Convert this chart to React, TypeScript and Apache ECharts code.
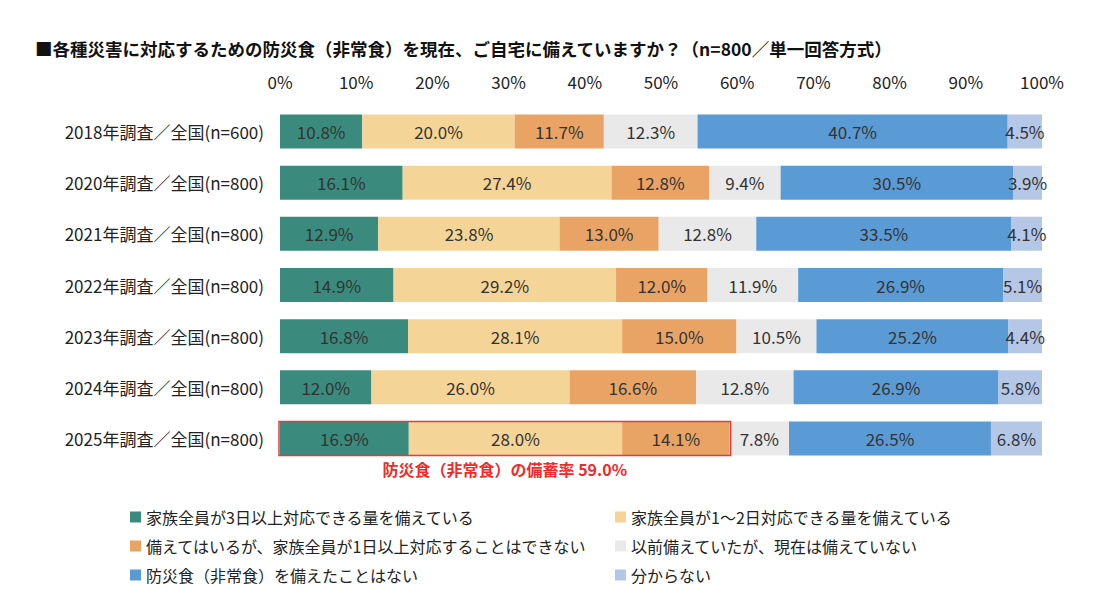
import { useEffect, useRef } from "react";
import * as echarts from "echarts";

const categories = [
  "2018年調査／全国(n=600)",
  "2020年調査／全国(n=800)",
  "2021年調査／全国(n=800)",
  "2022年調査／全国(n=800)",
  "2023年調査／全国(n=800)",
  "2024年調査／全国(n=800)",
  "2025年調査／全国(n=800)",
];
const seriesNames = [
  "家族全員が3日以上対応できる量を備えている",
  "家族全員が1～2日対応できる量を備えている",
  "備えてはいるが、家族全員が1日以上対応することはできない",
  "以前備えていたが、現在は備えていない",
  "防災食（非常食）を備えたことはない",
  "分からない",
];
const values = [
  [10.8, 16.1, 12.9, 14.9, 16.8, 12.0, 16.9],
  [20.0, 27.4, 23.8, 29.2, 28.1, 26.0, 28.0],
  [11.7, 12.8, 13.0, 12.0, 15.0, 16.6, 14.1],
  [12.3, 9.4, 12.8, 11.9, 10.5, 12.8, 7.8],
  [40.7, 30.5, 33.5, 26.9, 25.2, 26.9, 26.5],
  [4.5, 3.9, 4.1, 5.1, 4.4, 5.8, 6.8],
];
const colors = ["#3a8b7d", "#f5d597", "#e9a465", "#e9e9e9", "#5b9bd5", "#b4c7e7"];
const legendPos = [
  [125, 504], [610, 504], [125, 533], [610, 533], [125, 562], [610, 562],
];

export default function App() {
  const ref = useRef<HTMLDivElement>(null);
  useEffect(() => {
    if (!ref.current) return;
    document.body.style.margin = "0";
    const chart = echarts.init(ref.current, undefined, { renderer: "svg" });
    const font = "'Noto Sans CJK JP', 'Noto Sans', sans-serif";
    chart.setOption({
      animation: false,
      textStyle: { fontFamily: font },
      title: {
        text: "■各種災害に対応するための防災食（非常食）を現在、ご自宅に備えていますか？（n=800／単一回答方式）",
        left: 30, top: 35,
        textStyle: { fontSize: 17.5, fontWeight: "bold", color: "#111", fontFamily: font },
      },
      legend: seriesNames.map((n, i) => ({
        data: [n], left: legendPos[i][0], top: legendPos[i][1],
        icon: "rect", itemWidth: 11, itemHeight: 11, itemGap: 4,
        textStyle: { fontSize: 16, color: "#222", fontFamily: font },
      })),
      grid: { left: 280, right: 51, top: 106, bottom: 147 },
      xAxis: {
        type: "value", min: 0, max: 100, interval: 10, position: "top",
        axisLabel: { formatter: "{value}%", fontSize: 17, color: "#222", margin: 16 },
        splitLine: { show: false }, axisLine: { show: false }, axisTick: { show: false },
      },
      yAxis: {
        type: "category", data: categories, inverse: true,
        axisLabel: { fontSize: 17, color: "#222", margin: 16 },
        axisLine: { show: false }, axisTick: { show: false },
      },
      series: seriesNames.map((n, i) => ({
        name: n, type: "bar", stack: "a", data: values[i], barWidth: 34,
        itemStyle: { color: colors[i] },
        label: {
          show: true, position: "inside", fontSize: 17, color: "#333",
          formatter: (p: any) => p.value.toFixed(1) + "%",
        },
      })),
    });
    const last = categories.length - 1;
    const p0 = chart.convertToPixel({ gridIndex: 0 }, [0, last]) as number[];
    const sum = values[0][last] + values[1][last] + values[2][last];
    const p1 = chart.convertToPixel({ gridIndex: 0 }, [sum, last]) as number[];
    chart.setOption({
      graphic: [
        {
          type: "rect", shape: { x: p0[0] - 1, y: p0[1] - 17, width: p1[0] - p0[0] + 2, height: 34 },
          style: { fill: "none", stroke: "#e83a3a", lineWidth: 1.5 }, z: 100,
        },
        {
          type: "text", x: (p0[0] + p1[0]) / 2, y: p0[1] + 31,
          style: {
            text: `防災食（非常食）の備蓄率 ${sum.toFixed(1)}%`, fill: "#f02a2a",
            font: `bold 16px ${font}`, align: "center", verticalAlign: "middle",
          },
        },
      ],
    });
    return () => chart.dispose();
  }, []);
  return <div ref={ref} style={{ width: 1093, height: 611 }} />;
}
